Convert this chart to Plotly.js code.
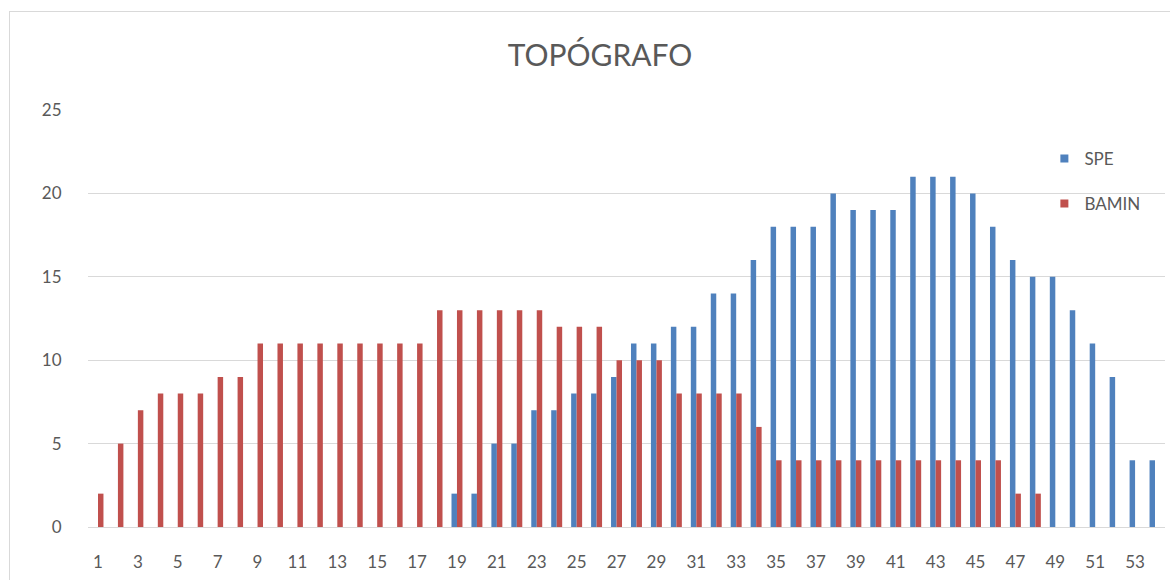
<!DOCTYPE html>
<html>
<head>
<meta charset="utf-8">
<script src="https://cdn.plot.ly/plotly-3.0.1.min.js"></script>
<style>
  html, body { margin: 0; padding: 0; background: #ffffff; }
  #frame { position: absolute; left: 9px; top: 11px; width: 1300px; height: 700px;
           border-left: 1px solid #d9d9d9; border-top: 1px solid #d9d9d9; }
  #chart { position: absolute; left: 0; top: 0; width: 1170px; height: 580px; }
</style>
</head>
<body>
<div id="frame"></div>
<div id="chart"></div>
<script>
const categories = [1,2,3,4,5,6,7,8,9,10,11,12,13,14,15,16,17,18,19,20,21,22,23,24,25,26,27,
  28,29,30,31,32,33,34,35,36,37,38,39,40,41,42,43,44,45,46,47,48,49,50,51,52,53,54];
const speValues = [0,0,0,0,0,0,0,0,0,0,0,0,0,0,0,0,0,0,2,2,5,5,7,7,8,8,9,
  11,11,12,12,14,14,16,18,18,18,20,19,19,19,21,21,21,20,18,16,15,15,13,11,9,4,4];
const baminValues = [2,5,7,8,8,8,9,9,11,11,11,11,11,11,11,11,11,13,13,13,13,13,13,12,12,12,10,
  10,10,8,8,8,8,6,4,4,4,4,4,4,4,4,4,4,4,4,2,2,0,0,0,0,0,0];
const xTickLabels = ["1","3","5","7","9","11","13","15","17","19","21","23","25","27",
  "29","31","33","35","37","39","41","43","45","47","49","51","53"];
const yTickValues = [0,5,10,15,20,25];
const seriesNames = ["SPE", "BAMIN"];
const seriesColors = ["#4F81BD", "#C0504D"];
const chartTitle = "TOPÓGRAFO";

const cats = categories.map(String);
const FONT = "Lato, 'Open Sans', sans-serif";
const GREY = "#595959";

const traces = [
  { type: "bar", name: seriesNames[0], x: cats, y: speValues,
    marker: { color: seriesColors[0] }, showlegend: false, legendgroup: "a", hoverinfo: "x+y+name" },
  { type: "bar", name: seriesNames[1], x: cats, y: baminValues,
    marker: { color: seriesColors[1] }, showlegend: false, legendgroup: "b", hoverinfo: "x+y+name" },
  { type: "scatter", mode: "markers", name: seriesNames[0], x: [null], y: [null],
    marker: { symbol: "square", size: 8, color: seriesColors[0] }, legendgroup: "a" },
  { type: "scatter", mode: "markers", name: seriesNames[1], x: [null], y: [null],
    marker: { symbol: "square", size: 8, color: seriesColors[1] }, legendgroup: "b" }
];

const layout = {
  width: 1170, height: 580,
  paper_bgcolor: "rgba(0,0,0,0)", plot_bgcolor: "rgba(0,0,0,0)",
  margin: { l: 88, r: 5, t: 110, b: 53, pad: 0 },
  font: { family: FONT, color: GREY, size: 17 },
  title: { text: chartTitle, font: { family: FONT, size: 30, color: GREY },
           x: 600 / 1170, xref: "container", xanchor: "center",
           y: 1 - 55 / 580, yref: "container", yanchor: "middle" },
  barmode: "group", bargap: 0.45, bargroupgap: 0,
  xaxis: { type: "category", categoryorder: "array", categoryarray: cats,
           tickmode: "array", tickvals: xTickLabels, ticktext: xTickLabels,
           showgrid: false, showline: false, zeroline: false,
           ticks: "outside", ticklen: 20, tickcolor: "rgba(0,0,0,0)",
           tickfont: { family: FONT, size: 17, color: GREY } },
  yaxis: { range: [0, 25], tickmode: "array", tickvals: yTickValues,
           showgrid: true, gridcolor: "#d9d9d9", gridwidth: 1,
           zeroline: true, zerolinecolor: "#d9d9d9", zerolinewidth: 1,
           showline: false, ticks: "outside", ticklen: 22, tickcolor: "rgba(0,0,0,0)",
           tickfont: { family: FONT, size: 17, color: GREY } },
  showlegend: true,
  legend: { x: 0.888, y: 0.926, xanchor: "left", yanchor: "top",
            traceorder: "grouped", tracegroupgap: 20,
            font: { family: FONT, size: 17, color: GREY },
            bgcolor: "rgba(0,0,0,0)" }
};

Plotly.newPlot("chart", traces, layout, { displayModeBar: false, staticPlot: true });
</script>
</body>
</html>
